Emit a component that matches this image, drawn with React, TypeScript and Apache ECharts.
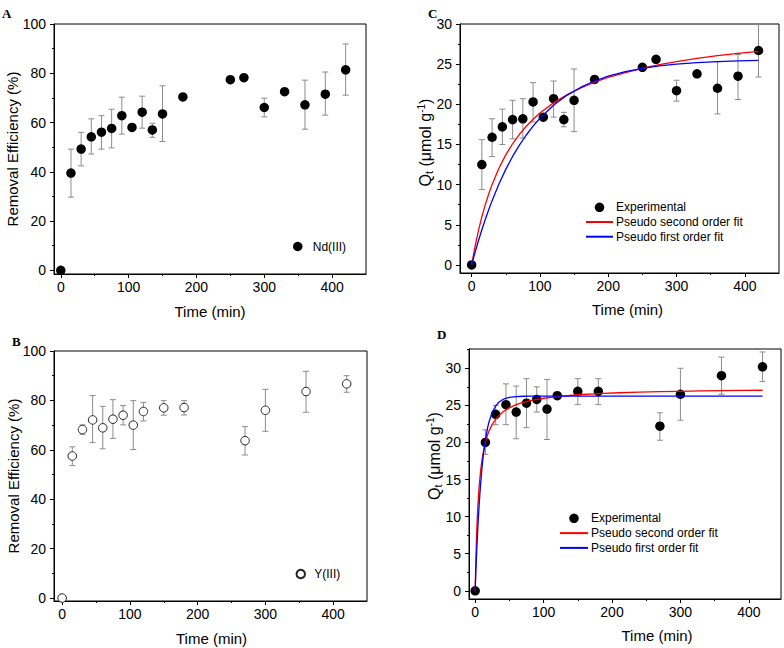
import React, { useEffect, useRef } from 'react';
import * as echarts from 'echarts';

// ---------- Panel A : Nd(III) removal efficiency ----------
const timeNd = [0, 15, 30, 45, 60, 75, 90, 105, 120, 135, 150, 180, 250, 270, 300, 330, 360, 390, 420];
const removalNd = [0, 39.5, 49.2, 54.2, 56.1, 57.6, 62.8, 58.0, 64.2, 57.0, 63.5, 70.4, 77.4, 78.2, 66.1, 72.5, 67.2, 71.5, 81.4];
const ndErrTime = [15, 30, 45, 60, 75, 90, 120, 135, 150, 300, 360, 390, 420];
const ndErrLow = [29.7, 42.4, 47.2, 49.2, 49.7, 55.3, 57.7, 54.0, 52.3, 62.3, 57.3, 63.0, 71.1];
const ndErrHigh = [49.2, 56.0, 61.5, 62.8, 65.4, 70.3, 70.7, 59.7, 74.9, 69.9, 77.2, 80.5, 91.9];

// ---------- Panel B : Y(III) removal efficiency ----------
const timeY = [0, 15, 30, 45, 60, 75, 90, 105, 120, 150, 180, 270, 300, 360, 420];
const removalY = [0, 57.5, 68.2, 72.1, 68.9, 72.4, 74.0, 70.0, 75.5, 77.0, 77.1, 63.7, 76.0, 83.6, 86.7];
const yErrTime = [15, 30, 45, 60, 75, 90, 105, 120, 150, 180, 270, 300, 360, 420];
const yErrLow = [53.6, 66.3, 62.9, 60.4, 64.6, 70.1, 60.1, 71.7, 74.0, 74.1, 57.9, 67.5, 75.2, 83.3];
const yErrHigh = [61.2, 70.1, 82.0, 77.6, 80.3, 77.9, 79.9, 79.2, 79.9, 79.9, 69.4, 84.5, 91.8, 90.0];

// ---------- Panel C : Nd(III) Qt with fits ----------
const qtNd = [0, 12.5, 15.9, 17.2, 18.1, 18.2, 20.3, 18.4, 20.7, 18.1, 20.5, 23.1, 24.6, 25.6, 21.7, 23.8, 22.0, 23.5, 26.7];
const qNdErrTime = [15, 30, 45, 60, 75, 90, 120, 135, 150, 300, 360, 390, 420];
const qNdErrLow = [9.4, 13.5, 15.0, 15.7, 15.8, 17.8, 18.4, 17.2, 16.6, 20.4, 18.8, 20.6, 23.4];
const qNdErrHigh = [15.6, 18.2, 19.4, 20.5, 20.7, 22.7, 22.9, 19.0, 24.4, 23.0, 25.3, 26.2, 30.2];
const fitTimeC = [0, 5, 10, 15, 20, 25, 30, 40, 50, 60, 70, 80, 90, 100, 120, 140, 160, 180, 200, 225, 250, 275, 300, 330, 360, 390, 420];
const psoC = [0, 2.30, 4.28, 6.00, 7.51, 8.84, 10.03, 12.05, 13.71, 15.09, 16.26, 17.27, 18.14, 18.91, 20.18, 21.21, 22.05, 22.75, 23.34, 23.96, 24.49, 24.93, 25.32, 25.71, 26.05, 26.35, 26.60];
const pfoC = [0, 1.55, 3.01, 4.38, 5.66, 6.87, 8.01, 10.07, 11.90, 13.51, 14.93, 16.18, 17.29, 18.27, 19.89, 21.15, 22.13, 22.90, 23.50, 24.06, 24.48, 24.78, 25.00, 25.19, 25.32, 25.40, 25.47];

// ---------- Panel D : Y(III) Qt with fits ----------
const qtY = [0, 20.0, 23.8, 25.1, 24.1, 25.3, 25.8, 24.5, 26.3, 26.9, 26.9, 22.2, 26.5, 29.0, 30.2];
const qYErrTime = [15, 30, 45, 60, 75, 90, 105, 150, 180, 270, 300, 360, 420];
const qYErrLow = [18.4, 22.4, 22.4, 20.5, 22.0, 24.1, 20.4, 25.1, 25.1, 20.3, 23.0, 26.5, 28.2];
const qYErrHigh = [21.7, 25.0, 27.9, 27.6, 28.6, 27.5, 28.5, 28.6, 28.6, 24.0, 30.0, 31.5, 32.2];
const fitTimeD = [0, 1, 2, 3, 4, 5, 6, 8, 10, 12, 15, 18, 20, 25, 30, 35, 40, 45, 50, 60, 70, 80, 90, 100, 120, 150, 180, 210, 240, 270, 300, 330, 360, 390, 420];
const psoD = [0, 4.20, 7.28, 9.64, 11.51, 13.02, 14.26, 16.21, 17.65, 18.76, 20.02, 20.97, 21.47, 22.44, 23.14, 23.66, 24.07, 24.40, 24.67, 25.09, 25.39, 25.63, 25.82, 25.96, 26.19, 26.43, 26.58, 26.70, 26.78, 26.85, 26.90, 26.95, 26.99, 27.02, 27.04];
const pfoD = [0, 2.50, 4.76, 6.80, 8.65, 10.33, 11.84, 14.46, 16.59, 18.34, 20.39, 21.91, 22.70, 24.10, 24.94, 25.46, 25.77, 25.96, 26.07, 26.18, 26.23, 26.24, 26.25, 26.25, 26.25, 26.25, 26.25, 26.25, 26.25, 26.25, 26.25, 26.25, 26.25, 26.25, 26.25];

// ---------- Tick labels ----------
const timeTicks = [0, 100, 200, 300, 400];
const removalTicks = [0, 20, 40, 60, 80, 100];
const qtTicks = [0, 5, 10, 15, 20, 25, 30];

const FONT = "'Liberation Sans', Arial, Helvetica, sans-serif";
const SERIF = "'Liberation Serif', 'Times New Roman', serif";

const pairs = (xs: number[], ys: number[]) => xs.map((x, i) => [x, ys[i]]);
const triples = (xs: number[], lo: number[], hi: number[]) => xs.map((x, i) => [x, lo[i], hi[i]]);

function xAxisCfg(gridIndex: number, min: number, max: number, nameGap: number, shift: number) {
  return {
    type: 'value', gridIndex, min, max, minInterval: 100, maxInterval: 100,
    axisLine: { show: true, onZero: false, lineStyle: { color: '#000', width: 1 } },
    axisTick: { show: true, inside: false, length: 4, customValues: timeTicks, lineStyle: { color: '#000', width: 1 } },
    minorTick: { show: true, splitNumber: 2, length: 2, lineStyle: { color: '#000', width: 1 } },
    axisLabel: { customValues: timeTicks, margin: 6, fontSize: 14, fontWeight: 'normal', color: '#000', fontFamily: FONT },
    splitLine: { show: false },
    name: 'Time (min)', nameLocation: 'middle', nameGap, nameMoveOverlap: false,
    nameTextStyle: { fontSize: 15, fontWeight: 'normal', color: '#000', fontFamily: FONT, padding: [0, 0, 0, shift * 2] },
  };
}

function yAxisCfg(gridIndex: number, min: number, max: number, step: number, ticks: number[], name: string, nameGap: number, shift: number, rich?: any) {
  return {
    type: 'value', gridIndex, min, max, minInterval: step, maxInterval: step,
    axisLine: { show: true, onZero: false, lineStyle: { color: '#000', width: 1 } },
    axisTick: { show: true, inside: false, length: 4, customValues: ticks, lineStyle: { color: '#000', width: 1 } },
    minorTick: { show: true, splitNumber: 2, length: 2, lineStyle: { color: '#000', width: 1 } },
    axisLabel: { customValues: ticks, margin: 8, fontSize: 14, fontWeight: 'normal', color: '#000', fontFamily: FONT },
    splitLine: { show: false },
    name, nameLocation: 'middle', nameGap, nameMoveOverlap: false,
    nameTextStyle: { fontSize: 15, fontWeight: 'normal', color: '#000', fontFamily: FONT, padding: [0, 0, 0, shift * 2], rich },
  };
}

function errSeries(idx: number, data: number[][]) {
  return {
    type: 'custom', xAxisIndex: idx, yAxisIndex: idx, data, clip: true, z: 1, silent: true,
    encode: { x: 0, y: [1, 2] },
    renderItem: (params: any, api: any) => {
      const x = api.value(0), lo = api.value(1), hi = api.value(2);
      const a = api.coord([x, hi]);
      const b = api.coord([x, lo]);
      const w = 3;
      const style = { stroke: '#8c8c8c', lineWidth: 1, fill: null };
      return {
        type: 'group', children: [
          { type: 'line', shape: { x1: a[0], y1: a[1], x2: b[0], y2: b[1] }, style },
          { type: 'line', shape: { x1: a[0] - w, y1: a[1], x2: a[0] + w, y2: a[1] }, style },
          { type: 'line', shape: { x1: b[0] - w, y1: b[1], x2: b[0] + w, y2: b[1] }, style },
        ],
      };
    },
  };
}

function scatterSeries(idx: number, name: string, data: number[][], open: boolean) {
  return {
    type: 'scatter', name, xAxisIndex: idx, yAxisIndex: idx, data, z: 2, silent: true,
    symbol: 'circle', symbolSize: open ? 8.5 : 9.5,
    itemStyle: open
      ? { color: '#fff', borderColor: '#222', borderWidth: 1, opacity: 1 }
      : { color: '#000', opacity: 1, borderWidth: 0 },
  };
}

function lineSeries(idx: number, name: string, data: number[][], color: string) {
  return {
    type: 'line', name, xAxisIndex: idx, yAxisIndex: idx, data, z: 3, silent: true,
    symbol: 'none', showSymbol: false, smooth: false, clip: true,
    lineStyle: { color, width: 1.3, opacity: 1 }, itemStyle: { color },
  };
}

const richBase = { fontFamily: FONT, color: '#000', fontWeight: 'normal' };
const qtRich = {
  n: { ...richBase, fontSize: 16, lineHeight: 18 },
  s: { ...richBase, fontSize: 11, lineHeight: 8, verticalAlign: 'bottom' },
  p: { ...richBase, fontSize: 10, lineHeight: 10, verticalAlign: 'top' },
};
const qtName = '{n|Q}{s|t}{n| (μmol g}{p|-1}{n|)}';

const legendText = { fontSize: 12, fontWeight: 'normal', color: '#000', fontFamily: FONT, padding: [0, 0, 0, -2] };
const lineLegendItem = (name: string) => ({ name, itemStyle: { opacity: 0 } });

const option = {
  animation: false,
  backgroundColor: '#fff',
  grid: [
    { left: 54, top: 24, width: 312, height: 250, show: true, borderColor: '#000', borderWidth: 1, backgroundColor: 'transparent' },
    { left: 54, top: 351, width: 313, height: 250, show: true, borderColor: '#000', borderWidth: 1, backgroundColor: 'transparent' },
    { left: 460, top: 24, width: 319, height: 249, show: true, borderColor: '#000', borderWidth: 1, backgroundColor: 'transparent' },
    { left: 469, top: 349, width: 312, height: 250, show: true, borderColor: '#000', borderWidth: 1, backgroundColor: 'transparent' },
  ],
  xAxis: [
    xAxisCfg(0, -10, 450, 30, 0),
    xAxisCfg(1, -12, 450, 30, 1),
    xAxisCfg(2, -17, 450, 29, 8),
    xAxisCfg(3, -9, 447, 29, 32),
  ],
  yAxis: [
    yAxisCfg(0, -1.5, 100, 20, removalTicks, 'Removal Efficiency (%)', 34, 0),
    yAxisCfg(1, -1.2, 100, 20, removalTicks, 'Removal Efficiency (%)', 33, 0),
    yAxisCfg(2, -1, 30, 5, qtTicks, qtName, 26, 6, qtRich),
    yAxisCfg(3, -1.1, 32.6, 5, qtTicks, qtName, 26, 18, qtRich),
  ],
  legend: [
    { data: ['Nd(III)'], left: 293, top: 240.5, orient: 'vertical', itemWidth: 24, itemHeight: 9.5, padding: 0, selectedMode: false, textStyle: legendText },
    { data: ['Y(III)'], left: 295.5, top: 568, orient: 'vertical', itemWidth: 21, itemHeight: 8.5, padding: 0, selectedMode: false, textStyle: legendText },
    {
      data: ['Experimental', lineLegendItem('Pseudo second order fit'), lineLegendItem('Pseudo first order fit')],
      left: 585, top: 201.3, orient: 'vertical', itemWidth: 27, itemHeight: 9.5, itemGap: 2.7, padding: 0, selectedMode: false, textStyle: legendText,
    },
    {
      data: ['Experimental', lineLegendItem('Pseudo second order fit'), lineLegendItem('Pseudo first order fit')],
      left: 559, top: 512.3, orient: 'vertical', itemWidth: 28, itemHeight: 9.5, itemGap: 2.8, padding: 0, selectedMode: false, textStyle: legendText,
    },
  ],
  graphic: [
    { type: 'text', x: 2, y: 13, style: { text: 'A', font: `bold 13px ${SERIF}`, fill: '#000', verticalAlign: 'middle' } },
    { type: 'text', x: 12, y: 341, style: { text: 'B', font: `bold 13px ${SERIF}`, fill: '#000', verticalAlign: 'middle' } },
    { type: 'text', x: 428, y: 13, style: { text: 'C', font: `bold 13px ${SERIF}`, fill: '#000', verticalAlign: 'middle' } },
    { type: 'text', x: 437, y: 334, style: { text: 'D', font: `bold 13px ${SERIF}`, fill: '#000', verticalAlign: 'middle' } },
  ],
  series: [
    errSeries(0, triples(ndErrTime, ndErrLow, ndErrHigh)),
    scatterSeries(0, 'Nd(III)', pairs(timeNd, removalNd), false),
    errSeries(1, triples(yErrTime, yErrLow, yErrHigh)),
    scatterSeries(1, 'Y(III)', pairs(timeY, removalY), true),
    errSeries(2, triples(qNdErrTime, qNdErrLow, qNdErrHigh)),
    scatterSeries(2, 'Experimental', pairs(timeNd, qtNd), false),
    lineSeries(2, 'Pseudo second order fit', pairs(fitTimeC, psoC), '#ff0000'),
    lineSeries(2, 'Pseudo first order fit', pairs(fitTimeC, pfoC), '#0000ff'),
    errSeries(3, triples(qYErrTime, qYErrLow, qYErrHigh)),
    scatterSeries(3, 'Experimental', pairs(timeY, qtY), false),
    lineSeries(3, 'Pseudo second order fit', pairs(fitTimeD, psoD), '#ff0000'),
    lineSeries(3, 'Pseudo first order fit', pairs(fitTimeD, pfoD), '#0000ff'),
  ],
};

export default function App() {
  const ref = useRef<HTMLDivElement>(null);
  useEffect(() => {
    if (!ref.current) return;
    const chart = echarts.init(ref.current, null, { renderer: 'svg' });
    chart.setOption(option as any);
    return () => chart.dispose();
  }, []);
  return (
    <div
      ref={ref}
      style={{ position: 'fixed', left: 0, top: 0, width: 784, height: 648, background: '#fff' }}
    />
  );
}
